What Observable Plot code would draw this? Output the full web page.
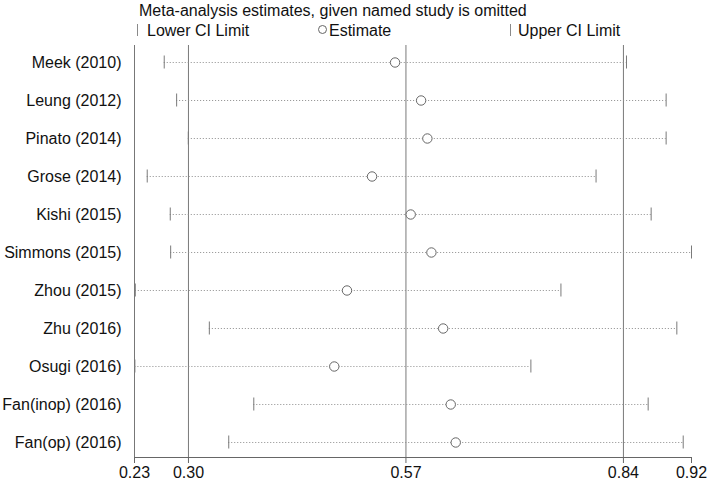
<!DOCTYPE html>
<html>
<head>
<meta charset="utf-8">
<script src="https://cdn.jsdelivr.net/npm/d3@7"></script>
<script src="https://cdn.jsdelivr.net/npm/@observablehq/plot@0.6"></script>
<style>
  html, body { margin: 0; padding: 0; background: #fff; }
  body { font-family: "Liberation Sans", Arial, sans-serif; }
  #wrap { position: relative; width: 714px; height: 483px; overflow: hidden; }
  #header { position: relative; width: 714px; height: 44px; font-size: 16px; line-height: 16px; color: #111; }
  .t { position: absolute; white-space: nowrap; }
  .bar { position: absolute; width: 1px; height: 12px; background: #8a8a8a; }
  .circ { position: absolute; width: 7px; height: 7px; border: 1px solid #666; border-radius: 50%; }
</style>
</head>
<body>
<div id="wrap">
  <div id="header">
    <div class="t" style="left:139px; top:3px;">Meta-analysis estimates, given named study is omitted</div>
    <div class="bar" style="left:137px; top:24px;"></div>
    <div class="t" style="left:147px; top:23px;">Lower CI Limit</div>
    <div class="circ" style="left:318px; top:25px;"></div>
    <div class="t" style="left:329px; top:23px;">Estimate</div>
    <div class="bar" style="left:510px; top:24px;"></div>
    <div class="t" style="left:518px; top:23px;">Upper CI Limit</div>
  </div>
  <div id="chart"></div>
</div>
<script>
const studies = ["Meek (2010)", "Leung (2012)", "Pinato (2014)", "Grose (2014)", "Kishi (2015)", "Simmons (2015)", "Zhou (2015)", "Zhu (2016)", "Osugi (2016)", "Fan(inop) (2016)", "Fan(op) (2016)"];
const lower    = [0.2699, 0.2853, 0.2998, 0.2488, 0.2774, 0.2779, 0.2340, 0.3259, 0.2335, 0.3811, 0.3500];
const estimate = [0.5565, 0.5888, 0.5966, 0.5279, 0.5759, 0.6016, 0.4968, 0.6162, 0.4810, 0.6256, 0.6318];
const upper    = [0.8438, 0.8930, 0.8930, 0.8060, 0.8744, 0.9245, 0.7624, 0.9063, 0.7251, 0.8707, 0.9142];
const tickValues = [0.2330, 0.30, 0.57, 0.84, 0.9245];
const refLines = [0.30, 0.57, 0.84];

const rows = studies.map((s, i) => ({study: s, lower: lower[i], estimate: estimate[i], upper: upper[i]}));

const chart = Plot.plot({
  width: 714,
  height: 439,
  marginLeft: 134,
  marginRight: 23,
  marginTop: 1,
  marginBottom: 26,
  style: {fontFamily: '"Liberation Sans", Arial, sans-serif', fontSize: "16px", color: "#111", background: "#fff"},
  x: {domain: [tickValues[0], tickValues[tickValues.length - 1]]},
  y: {type: "band", domain: studies, range: [-1, 417], padding: 0},
  marks: [
    Plot.ruleX(refLines, {stroke: "#7a7a7a", strokeWidth: 1}),
    Plot.frame({anchor: "left", stroke: "#777"}),
    Plot.frame({anchor: "bottom", stroke: "#666"}),
    Plot.ruleY(rows, {y: "study", x1: "lower", x2: "upper", stroke: "#8c8c8c", strokeDasharray: "1,2", strokeWidth: 1}),
    Plot.tickX(rows, {x: "lower", y: "study", stroke: "#7a7a7a", insetTop: 12.5, insetBottom: 12.5}),
    Plot.tickX(rows, {x: "upper", y: "study", stroke: "#7a7a7a", insetTop: 12.5, insetBottom: 12.5}),
    Plot.dot(rows, {x: "estimate", y: "study", r: 4.7, stroke: "#666", fill: "white", strokeWidth: 1}),
    Plot.axisY({tickSize: 0, tickPadding: 13, fontSize: 16, label: null, fill: "#111"}),
    Plot.axisX({ticks: tickValues, tickFormat: d => d.toFixed(2), tickSize: 6, tickPadding: 3, fontSize: 16, label: null, stroke: "#666", fill: "#111"})
  ]
});
document.getElementById("chart").appendChild(chart);
</script>
</body>
</html>
